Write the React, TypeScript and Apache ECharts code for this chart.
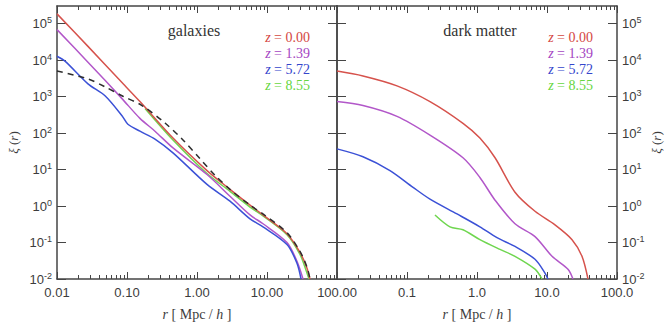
import React, { useEffect, useRef } from "react";
import * as echarts from "echarts";

// Redshift labels and colours shared by both panels
const redshifts = ["0.00", "1.39", "5.72", "8.55"];
const lineColors = ["#d6524c", "#b257c9", "#3b51d6", "#6fd64f"];
const labelColors = ["#d4473f", "#a445c2", "#3445cc", "#66d640"];

// Galaxy correlation functions, r in Mpc/h
const galR_z000 = [0.01, 0.0277, 0.0848, 0.153, 0.454, 1.39, 2.96, 5.72, 8.77, 19.3, 29.6, 37.3, 41.1];
const galXi_z000 = [1.86e5, 2.39e4, 2430, 733, 73.3, 9.4, 2.88, 1.06, 0.571, 0.175, 0.0537, 0.0198, 0.01];
const galR_z139 = [0.01, 0.0277, 0.0848, 0.153, 0.251, 0.454, 1.39, 2.96, 5.72, 8.77, 19.3, 26.8, 32.7];
const galXi_z139 = [6.89e4, 8830, 883, 254, 113, 39.3, 7.33, 1.86, 0.571, 0.327, 0.1, 0.0306, 0.01];
const galR_z572 = [0.01, 0.013, 0.0277, 0.0485, 0.0848, 0.103, 0.153, 0.251, 0.454, 1.39, 2.96, 5.72, 8.77, 19.3, 26.8, 30.6];
const galXi_z572 = [1.28e4, 9400, 2250, 1060, 300, 175, 113, 68.8, 28.8, 3.93, 1.36, 0.446, 0.27, 0.0883, 0.027, 0.01];
const galR_z855 = [0.181, 0.454, 1.39, 2.96, 5.72, 8.77, 19.3, 29.6, 36.1, 39.8];
const galXi_z855 = [474, 64.7, 7.8, 2.54, 0.94, 0.537, 0.164, 0.0474, 0.0175, 0.01];
// Reference (dashed) curve in the galaxies panel
const galR_ref = [0.01, 0.0277, 0.0485, 0.0848, 0.164, 0.349, 0.631, 1.1, 1.81, 2.96, 5.72, 8.77, 19.3, 29.6, 37.3, 41.1];
const galXi_ref = [5040, 3070, 1860, 1060, 571, 190, 64.7, 20.0, 7.0, 2.88, 1.06, 0.608, 0.186, 0.0571, 0.0211, 0.01];

// Dark matter correlation functions
const dmR_z000 = [0.01, 0.0235, 0.072, 0.213, 0.631, 1.1, 1.81, 3.49, 6.74, 13.0, 22.8, 31.6, 38.5];
const dmXi_z000 = [5040, 3700, 1980, 733, 186, 73.3, 21.1, 2.4, 0.72, 0.306, 0.12, 0.0419, 0.01];
const dmR_z139 = [0.01, 0.0235, 0.072, 0.213, 0.631, 1.1, 1.81, 3.49, 6.74, 11.8, 19.95, 23.5];
const dmXi_z139 = [733, 571, 288, 88.3, 21.1, 6.08, 1.45, 0.327, 0.145, 0.0419, 0.0186, 0.01];
const dmR_z572 = [0.01, 0.0235, 0.0571, 0.122, 0.213, 0.518, 1.1, 1.93, 3.49, 6.74, 9.36, 10.3];
const dmXi_z572 = [37.0, 22.5, 9.4, 3.26, 1.55, 0.608, 0.27, 0.136, 0.078, 0.0347, 0.0145, 0.01];
const dmR_z855 = [0.251, 0.411, 0.631, 1.1, 2.13, 3.49, 6.74, 8.49];
const dmXi_z855 = [0.571, 0.27, 0.224, 0.12, 0.0647, 0.0419, 0.0186, 0.01];

// Axis ticks
const xMajorTicks = [0.01, 0.1, 1, 10, 100];
const xLabelsLeft = [0.01, 0.1, 1, 10, 100];
const xLabelsRight = [0.1, 1, 10, 100];
const yMajorTicks = [0.01, 0.1, 1, 10, 100, 1e3, 1e4, 1e5];
const xMinorTicks: number[] = [];
for (const d of [0.01, 0.1, 1, 10]) {
  for (let m = 2; m <= 9; m++) xMinorTicks.push(+(d * m).toPrecision(3));
}

const X_MIN = 0.01;
const X_MAX = 100;
const Y_MIN = 0.01;
const Y_MAX = 3.06e5;

const SANS = '"Liberation Sans", Arial, sans-serif';
const SERIF = '"Liberation Serif", "Times New Roman", serif';
const AXIS_COLOR = "#454545";
const TEXT_COLOR = "#3c3c3c";

const axisLine = { show: true, lineStyle: { color: AXIS_COLOR, width: 1.5 } };

function xAxesFor(gridIndex: number, labels: number[], digits: number) {
  const base = {
    type: "log" as const,
    gridIndex,
    min: X_MIN,
    max: X_MAX,
    logBase: 10,
    splitLine: { show: false },
    minorTick: { show: false },
    minorSplitLine: { show: false },
  };
  return [
    {
      ...base,
      position: "bottom",
      axisLine,
      axisTick: { show: true, inside: true, length: 7, customValues: xMajorTicks, lineStyle: { color: AXIS_COLOR, width: 1 } },
      axisLabel: {
        show: true,
        customValues: labels,
        formatter: (v: number) => v.toFixed(digits),
        margin: 7,
        color: TEXT_COLOR,
        fontSize: 13,
        fontFamily: SANS,
      },
      name: "{i|r}{n| [ Mpc / }{i|h}{n| ]}",
      nameLocation: "middle",
      nameGap: 28,
      nameTextStyle: {
        rich: {
          i: { fontFamily: SERIF, fontStyle: "italic", fontSize: 14, color: TEXT_COLOR },
          n: { fontFamily: SERIF, fontSize: 14, color: TEXT_COLOR },
        },
      },
    },
    {
      ...base,
      position: "bottom",
      axisLine: { show: false },
      axisTick: { show: true, inside: true, length: 4, customValues: xMinorTicks, lineStyle: { color: AXIS_COLOR, width: 1 } },
      axisLabel: { show: false },
    },
    {
      ...base,
      position: "top",
      axisLine,
      axisTick: { show: true, inside: true, length: 7, customValues: xMajorTicks, lineStyle: { color: AXIS_COLOR, width: 1 } },
      axisLabel: { show: false },
    },
    {
      ...base,
      position: "top",
      axisLine: { show: false },
      axisTick: { show: true, inside: true, length: 4, customValues: xMinorTicks, lineStyle: { color: AXIS_COLOR, width: 1 } },
      axisLabel: { show: false },
    },
  ];
}

const yLabelRich = {
  b: { fontSize: 13, fontFamily: SANS, color: TEXT_COLOR },
  s: { fontSize: 9, fontFamily: SANS, color: TEXT_COLOR, padding: [0, 0, 7, 0] },
};
const yName = "{i|ξ}{n| (}{i|r}{n|)}";
const yNameStyle = {
  rich: {
    i: { fontFamily: SERIF, fontStyle: "italic", fontSize: 13, color: TEXT_COLOR },
    n: { fontFamily: SERIF, fontSize: 13, color: TEXT_COLOR },
  },
};

function yAxisFor(gridIndex: number, position: "left" | "right", withLabels: boolean) {
  return {
    type: "log" as const,
    gridIndex,
    position,
    min: Y_MIN,
    max: Y_MAX,
    logBase: 10,
    splitLine: { show: false },
    minorTick: { show: false },
    axisLine,
    axisTick: { show: true, inside: true, length: 9, customValues: yMajorTicks, lineStyle: { color: AXIS_COLOR, width: 1 } },
    axisLabel: {
      show: withLabels,
      customValues: yMajorTicks,
      margin: 5,
      formatter: (v: number) => `{b|10}{s|${Math.round(Math.log10(v))}}`,
      rich: yLabelRich,
    },
    name: withLabels ? yName : "",
    nameLocation: "middle",
    nameRotate: 90,
    nameGap: position === "left" ? 37 : 33,
    nameTextStyle: yNameStyle,
  };
}

function line(rs: number[], xis: number[], color: string, xAxisIndex: number, yAxisIndex: number, dashed = false, z = 2) {
  return {
    type: "line",
    xAxisIndex,
    yAxisIndex,
    data: rs.map((r, i) => [r, xis[i]]),
    showSymbol: false,
    symbol: "none",
    smooth: 0.3,
    clip: true,
    z,
    lineStyle: { color, width: 1.5, type: dashed ? [6, 5] : "solid" },
  };
}

function legendTexts(right: number) {
  return redshifts.map((zv, i) => ({
    type: "text",
    x: right,
    y: 37 + i * 16.3,
    style: {
      text: `{i|z} = ${zv}`,
      align: "right",
      verticalAlign: "middle",
      fill: labelColors[i],
      font: `14px ${SERIF}`,
      rich: { i: { fontStyle: "italic", fontFamily: SERIF, fontSize: 14, fill: labelColors[i] } },
    },
  }));
}

export default function App() {
  const ref = useRef<HTMLDivElement>(null);

  useEffect(() => {
    if (!ref.current) return;
    const chart = echarts.init(ref.current, undefined, { renderer: "svg" });
    const galSets = [
      [galR_z000, galXi_z000],
      [galR_z139, galXi_z139],
      [galR_z572, galXi_z572],
      [galR_z855, galXi_z855],
    ];
    const dmSets = [
      [dmR_z000, dmXi_z000],
      [dmR_z139, dmXi_z139],
      [dmR_z572, dmXi_z572],
      [dmR_z855, dmXi_z855],
    ];
    chart.setOption({
      animation: false,
      backgroundColor: "#ffffff",
      grid: [
        { left: 57, top: 6, width: 280, height: 277 },
        { left: 337, top: 6, width: 280, height: 277 },
      ],
      xAxis: [...xAxesFor(0, xLabelsLeft, 2), ...xAxesFor(1, xLabelsRight, 1)],
      yAxis: [
        yAxisFor(0, "left", true),
        yAxisFor(0, "right", false),
        yAxisFor(1, "left", false),
        yAxisFor(1, "right", true),
      ],
      series: [
        ...galSets.map(([r, xi], i) => line(r, xi, lineColors[i], 0, 0, false, 2 + (i === 3 ? 0 : 1))),
        line(galR_ref, galXi_ref, "#2e2e2e", 0, 0, true, 4),
        ...dmSets.map(([r, xi], i) => line(r, xi, lineColors[i], 4, 2)),
      ],
      graphic: [
        {
          type: "text",
          x: 194,
          y: 30,
          style: { text: "galaxies", align: "center", verticalAlign: "middle", fill: "#333", font: `16px ${SERIF}` },
        },
        {
          type: "text",
          x: 480,
          y: 30,
          style: { text: "dark matter", align: "center", verticalAlign: "middle", fill: "#333", font: `16px ${SERIF}` },
        },
        ...legendTexts(310),
        ...legendTexts(593),
      ],
    });
    return () => chart.dispose();
  }, []);

  return (
    <div
      ref={ref}
      style={{ position: "fixed", left: 0, top: 0, width: 665, height: 326, background: "#fff" }}
    />
  );
}
